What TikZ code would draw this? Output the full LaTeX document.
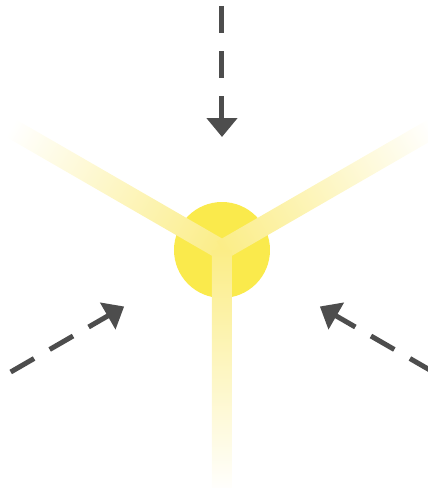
\documentclass[tikz,border=0pt]{standalone}
\usepackage{tikz}
\usetikzlibrary{arrows.meta}

\definecolor{sunY}{RGB}{250,234,76}
\definecolor{rayY}{RGB}{251,237,135}
\definecolor{arrG}{RGB}{77,77,77}
\tikzset{
	ray/.style={left color=rayY, middle color=rayY!70!white, right color=white, draw=none},
	inflow/.style={arrG, line width=5pt, dash pattern=on 27pt off 18pt,
		-{Triangle[length=19pt,width=30pt]}},
}

\begin{document}
\begin{tikzpicture}[x=1pt,y=1pt]
	\useasboundingbox (-222,-238) rectangle (206,250);
	\node[circle,fill=sunY,minimum size=96pt,inner sep=0pt] (sun) at (0,0) {};
	% three rays
	\foreach \a in {150,30,270}
		\shade[ray,transform canvas={rotate=\a}] (0,-10) rectangle (244,10);
	% incoming arrows
	\coordinate (topS) at (90:244);
	\coordinate (topE) at (90:113);
	\coordinate (leftS) at (210:244);
	\coordinate (leftE) at (210:113);
	\coordinate (rightS) at (330:244);
	\coordinate (rightE) at (330:113);
	\draw[inflow] (topS) -- (topE);
	\draw[inflow] (leftS) -- (leftE);
	\draw[inflow] (rightS) -- (rightE);
\end{tikzpicture}
\end{document}
